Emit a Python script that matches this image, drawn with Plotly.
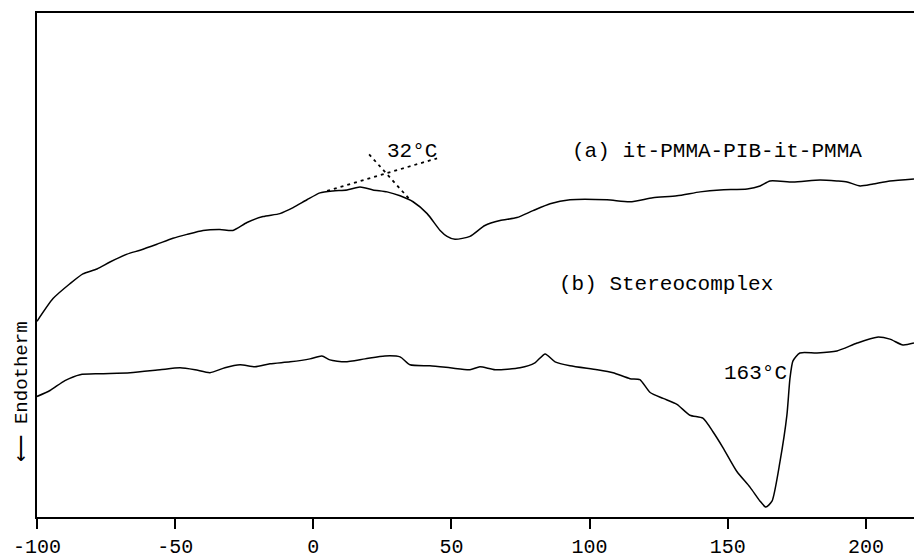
import plotly.graph_objects as go

# Temperature (°C) and heat-flow (arbitrary units)
temp_a = [-100, -94.2, -88.1, -83.4, -78.3, -73.6, -67.4, -62.7, -56.6, -50.8, -45.7, -39.9,
          -33.8, -29.1, -24.0, -18.2, -12.1, -7.3, -2.3, 2.4, 7.1, 12.2, 16.9, 21.6, 26.7,
          31.4, 36.1, 41.2, 45.9, 48.4, 51.3, 56.7, 62.1, 67.6, 73.7, 79.5, 85.7, 92.9,
          106.3, 114.6, 122.9, 131.6, 140.0, 147.2, 157.0, 161.7, 165.3, 173.6, 183.4,
          189.5, 193.2, 197.9, 202.6, 208.7, 217.4]
heat_a = [19.8, 22.1, 23.6, 24.6, 25.1, 25.8, 26.6, 27.0, 27.6, 28.2, 28.6, 29.0,
          29.1, 29.0, 29.8, 30.4, 30.7, 31.3, 32.1, 32.8, 33.0, 33.1, 33.4, 33.1, 32.9,
          32.5, 31.9, 30.7, 29.0, 28.4, 28.1, 28.4, 29.5, 30.0, 30.3, 31.0, 31.7, 32.1,
          32.1, 31.9, 32.3, 32.5, 32.9, 33.1, 33.2, 33.5, 34.0, 33.9, 34.1,
          34.0, 33.9, 33.5, 33.7, 34.0, 34.2]

temp_b = [-100, -95.3, -89.9, -84.4, -77.2, -66.3, -55.5, -48.2, -42.8, -37.4, -32.0, -26.5,
          -21.1, -15.7, -8.4, -1.2, 3.1, 6.0, 11.5, 18.7, 25.9, 31.4, 35.0, 42.2, 49.5,
          56.7, 60.3, 65.8, 74.8, 80.2, 83.9, 87.5, 92.9, 102.7, 108.5, 114.6, 118.2,
          121.9, 126.6, 131.6, 136.3, 141.0, 144.7, 148.3, 153.3, 158.1, 161.7, 163.8,
          166.0, 168.9, 171.4, 172.5, 173.6, 176.1, 182.3, 189.5, 196.8, 204.0, 208.7,
          213.4, 217.4]
heat_b = [12.2, 12.8, 13.8, 14.4, 14.5, 14.6, 14.9, 15.1, 14.9, 14.6, 15.1, 15.4,
          15.2, 15.5, 15.7, 16.0, 16.3, 15.9, 15.7, 16.0, 16.3, 16.2, 15.4, 15.3, 15.1,
          14.9, 15.2, 14.9, 15.1, 15.6, 16.5, 15.7, 15.3, 14.9, 14.6, 14.0, 13.9,
          12.6, 12.0, 11.4, 10.3, 10.0, 8.6, 7.0, 4.6, 3.0, 1.6, 1.0,
          1.6, 5.6, 10.3, 14.0, 15.8, 16.6, 16.6, 16.8, 17.6, 18.2, 18.0,
          17.4, 17.6]

# Onset construction lines for Tg of curve (a)
tangent1_t = [5.0, 44.8]
tangent1_h = [33.0, 36.3]
tangent2_t = [20.2, 35.0]
tangent2_h = [36.7, 32.1]

x_ticks = [-100, -50, 0, 50, 100, 150, 200]
x_range = [-100, 217.4]
y_range = [0, 51]

FONT = "Liberation Mono"

fig = go.Figure()
line_style = dict(color="black", width=1.5, shape="spline", smoothing=0.6)
fig.add_trace(go.Scatter(x=temp_a, y=heat_a, mode="lines", line=line_style, hoverinfo="skip"))
fig.add_trace(go.Scatter(x=temp_b, y=heat_b, mode="lines", line=line_style, hoverinfo="skip"))
for tx, hy in [(tangent1_t, tangent1_h), (tangent2_t, tangent2_h)]:
    fig.add_trace(go.Scatter(x=tx, y=hy, mode="lines",
                             line=dict(color="black", width=1.8, dash="3px,4px"), hoverinfo="skip"))

text_font = dict(family=FONT, size=21, color="black")
fig.add_annotation(x=35.7, y=37.0, text="32°C", showarrow=False, font=text_font)
fig.add_annotation(x=92.9, y=37.0, text="(a) it-PMMA-PIB-it-PMMA", showarrow=False,
                   xanchor="left", font=text_font)
fig.add_annotation(x=88.2, y=23.5, text="(b) Stereocomplex", showarrow=False,
                   xanchor="left", font=text_font)
fig.add_annotation(x=172.3, y=14.5, text="163°C", showarrow=False,
                   xanchor="right", font=text_font)
fig.add_annotation(xref="paper", x=0, xshift=-28, y=12.6, text="\u27f5 Endotherm",
                   showarrow=False, textangle=-90, font=dict(family=FONT, size=19, color="black"))

fig.update_layout(
    width=914, height=559,
    margin=dict(l=37, r=0, t=13, b=36),
    paper_bgcolor="white", plot_bgcolor="white",
    showlegend=False,
    xaxis=dict(range=x_range, tickvals=x_ticks, ticktext=[str(v) for v in x_ticks],
               ticks="outside", ticklen=10, tickwidth=1.5, tickcolor="black",
               showline=True, linewidth=1.8, linecolor="black", mirror=True,
               showgrid=False, zeroline=False,
               tickfont=dict(family=FONT, size=20, color="black")),
    yaxis=dict(range=y_range, showticklabels=False, ticks="",
               showline=True, linewidth=1.8, linecolor="black",
               showgrid=False, zeroline=False),
)

fig.write_html("out.html")
